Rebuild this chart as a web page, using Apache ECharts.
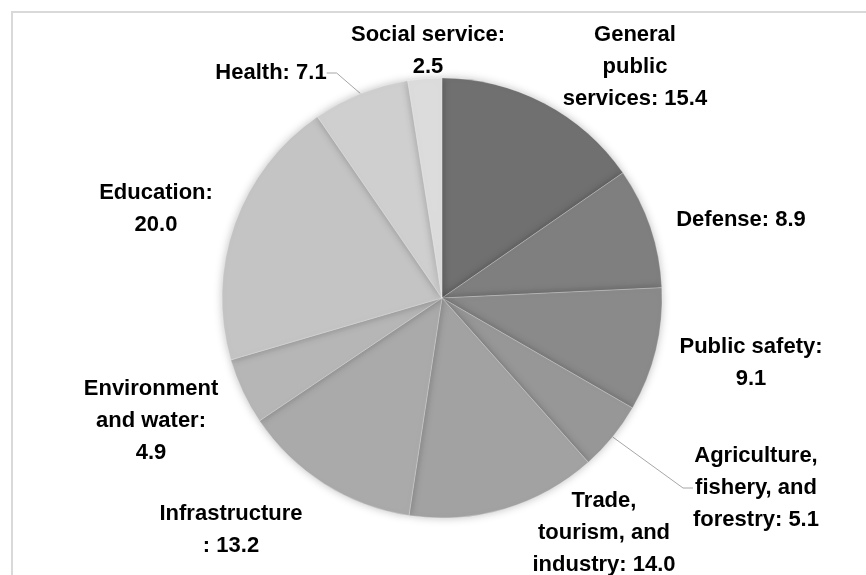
<!DOCTYPE html>
<html>
<head>
<meta charset="utf-8">
<script src="https://cdn.jsdelivr.net/npm/echarts@6/dist/echarts.min.js"></script>
<style>
html, body { margin: 0; padding: 0; background: #fff; }
#chart { width: 866px; height: 575px; }
</style>
</head>
<body>
<div id="chart"></div>
<script>
var categories = ['General public services', 'Defense', 'Public safety', 'Agriculture, fishery, and forestry',
    'Trade, tourism, and industry', 'Infrastructure', 'Environment and water', 'Education', 'Health', 'Social service'];
var values = [15.4, 8.9, 9.1, 5.1, 14.0, 13.2, 4.9, 20.0, 7.1, 2.5];
// label text as wrapped in the picture, {v} is the value
var labelText = ['General\npublic\nservices: {v}', 'Defense: {v}', 'Public safety:\n{v}', 'Agriculture,\nfishery, and\nforestry: {v}',
    'Trade,\ntourism, and\nindustry: {v}', 'Infrastructure\n: {v}', 'Environment\nand water:\n{v}', 'Education:\n{v}', 'Health: {v}', 'Social service:\n{v}'];
var colors = ['#707070', '#7f7f7f', '#8a8a8a', '#979797', '#a2a2a2', '#aaaaaa', '#b6b6b6', '#c4c4c4', '#cfcfcf', '#dcdcdc'];
var withLine = ['Health', 'Agriculture, fishery, and forestry'];
// label centres (style only)
var labelPos = [[635, 67], [741, 220], [751, 363], [756, 488], [604, 533], [231, 530], [151, 421], [156, 209], [271, 73], [428, 51]];

var chart = echarts.init(document.getElementById('chart'));

var data = categories.map(function (name, i) {
    return {
        name: name,
        value: values[i],
        itemStyle: { color: colors[i] },
        labelLine: { show: withLine.indexOf(name) >= 0 }
    };
});

var option = {
    animation: false,
    graphic: [{
        type: 'rect',
        shape: { x: 12, y: 12, width: 900, height: 600 },
        style: { fill: 'none', stroke: '#d9d9d9', lineWidth: 2 },
        silent: true
    }],
    series: [{
        type: 'pie',
        center: [442, 298],
        radius: 220,
        startAngle: 90,
        clockwise: true,
        data: data,
        itemStyle: {
            borderColor: 'rgba(255,255,255,0.5)',
            borderWidth: 0.5,
            shadowBlur: 8,
            shadowColor: 'rgba(0,0,0,0.25)'
        },
        label: {
            show: true,
            position: 'outside',
            color: '#000',
            fontFamily: '"Liberation Sans", Arial, sans-serif',
            fontWeight: 'bold',
            fontSize: 22,
            lineHeight: 32,
            align: 'center',
            overflow: 'none',
            formatter: function (p) {
                return labelText[p.dataIndex].replace('{v}', p.value.toFixed(1));
            }
        },
        labelLine: {
            length: 10,
            length2: 10,
            lineStyle: { color: '#a6a6a6', width: 1 }
        },
        labelLayout: function (p) {
            var pos = labelPos[p.dataIndex];
            return { x: pos[0], y: pos[1], align: 'center', verticalAlign: 'middle' };
        }
    }]
};
chart.setOption(option);
</script>
</body>
</html>
